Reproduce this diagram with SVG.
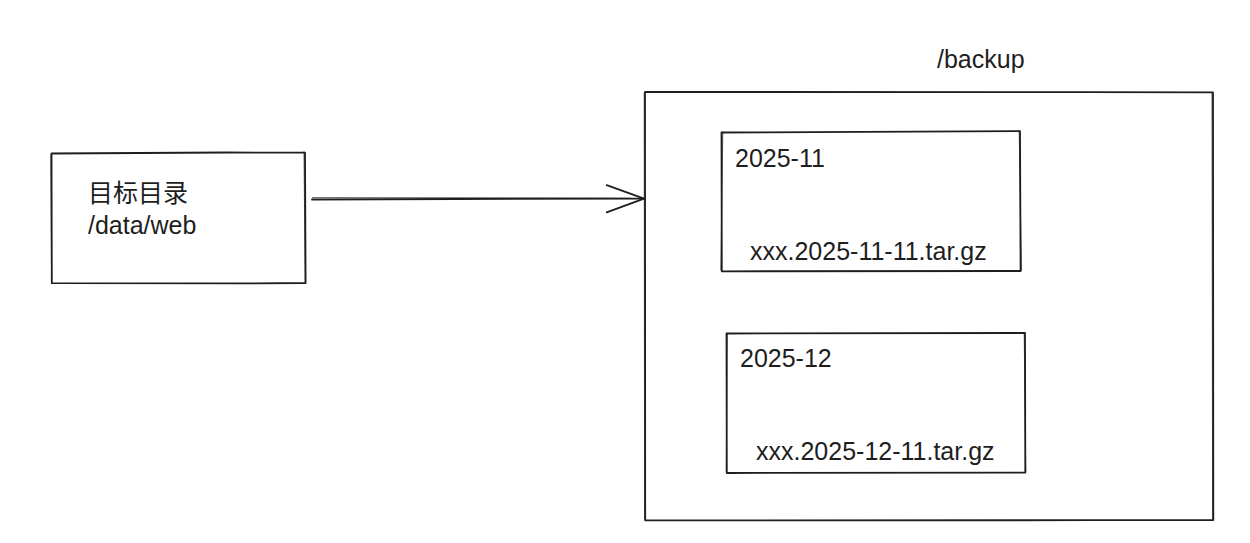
<svg xmlns="http://www.w3.org/2000/svg" width="1250" height="543" viewBox="0 0 1250 543">
<style>
.box{fill:none;stroke:#1e1e1e;stroke-width:1.8;stroke-linecap:round;stroke-linejoin:round}
.box2{fill:none;stroke:#1e1e1e;stroke-width:1;stroke-linecap:round;opacity:.7}
.t{font-family:"Liberation Sans",Arial,"Noto Sans CJK SC",sans-serif;font-size:25px;fill:#1e1e1e}
</style>
<rect width="1250" height="543" fill="#ffffff"/>
<g id="source">
<path class="box" d="M51.5 153.5 C130 152.8 220 152.2 305 152.6 L305.6 283 C220 283.8 130 283.4 51.8 283.2 L51.5 153.5"/>
<path class="box2" d="M50.8 155 L51.6 282 M304 151.8 L305.2 282.4"/>
<text class="t" x="88" y="202">目标目录</text>
<text class="t" x="88" y="234">/data/web</text>
</g>
<g id="backup">
<text class="t" x="937" y="68">/backup</text>
<path class="box" d="M645 92 C820 92.4 1020 91.6 1213 92.4 L1213.3 520 C1020 520.6 820 519.8 645.2 520.3 L645 92"/>
<path class="box2" d="M644.2 93 L644.6 518.8 M1212 93 L1212.6 519"/>
</g>
<g id="month-2025-11">
<path class="box" d="M721.5 132.5 C820 131.2 920 131.4 1020 131.2 L1020.6 271 C920 270.8 820 271.6 721.8 271.3 L721.5 132.5"/>
<path class="box2" d="M722.8 132 L720.8 270 M1019.2 130.8 L1021.4 270.6"/>
<text class="t" x="735" y="167">2025-11</text>
<text class="t" x="750" y="260">xxx.2025-11-11.tar.gz</text>
</g>
<g id="month-2025-12">
<path class="box" d="M726.5 333.5 C820 333 920 333.6 1025 333 L1025.3 472.6 C920 473 820 472.8 726.8 473 L726.5 333.5"/>
<path class="box2" d="M727.4 334 L726.2 472 M1024.2 333.6 L1025.8 471.8"/>
<text class="t" x="740" y="367">2025-12</text>
<text class="t" x="756" y="460">xxx.2025-12-11.tar.gz</text>
</g>
<g id="connectors">
<path class="box" d="M312 199.5 C420 199.2 540 198.6 644 198.6"/>
<path class="box2" d="M312.5 197.6 C420 197.8 540 197.6 630 198.2"/>
<path class="box" d="M606.7 185.2 L644 198.6 L606.7 212.3"/>
</g>
</svg>
